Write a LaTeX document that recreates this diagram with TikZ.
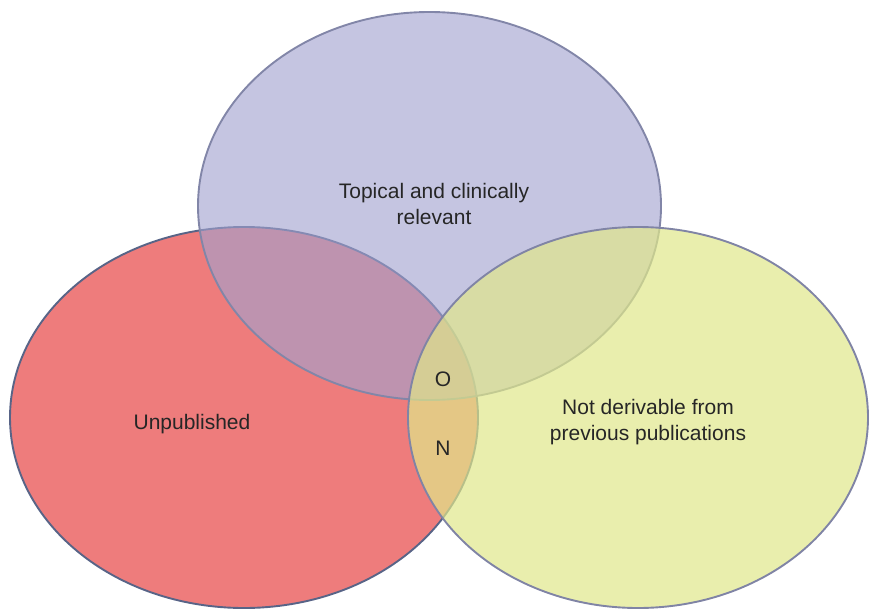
\documentclass[tikz,border=0pt]{standalone}
\usepackage{fontspec}
\setmainfont{Liberation Sans}
\usetikzlibrary{shapes.geometric}

\definecolor{setred}{RGB}{238,124,124}
\definecolor{settop}{RGB}{162,162,207}
\definecolor{setyellow}{RGB}{224,231,138}
\definecolor{linered}{RGB}{88,100,135}
\definecolor{linetop}{RGB}{130,134,168}
\definecolor{lineyellow}{RGB}{128,132,165}

\begin{document}
\begin{tikzpicture}[x=1pt,y=-1pt,
        every node/.style={font=\fontsize{21}{25.5}\selectfont,text=black!85},
        set/.style={ellipse,draw,line width=1.9pt,inner sep=0pt}]
    \useasboundingbox (0,0) rectangle (869,610);

    % the three sets
    \node[set,fill=setred,draw=linered,minimum width=468pt,minimum height=381pt] (unpub) at (244,417.5) {};
    \node[set,fill=settop,fill opacity=0.62,draw=linetop,minimum width=463pt,minimum height=388pt] (topical) at (429.5,206) {};
    \node[set,fill=setyellow,fill opacity=0.7,draw=lineyellow,minimum width=460pt,minimum height=381pt] (notderiv) at (638,417.5) {};

    % labels
    \node[align=center] (topicallabel) at (434,204) {Topical and clinically\\relevant};
    \node (unpublabel) at (192,424) {Unpublished};
    \node[align=center] (notderivlabel) at (648,422) {Not derivable from\\previous publications};
    \node (olabel) at (443,379) {O};
    \node (nlabel) at (443,448) {N};
\end{tikzpicture}
\end{document}
